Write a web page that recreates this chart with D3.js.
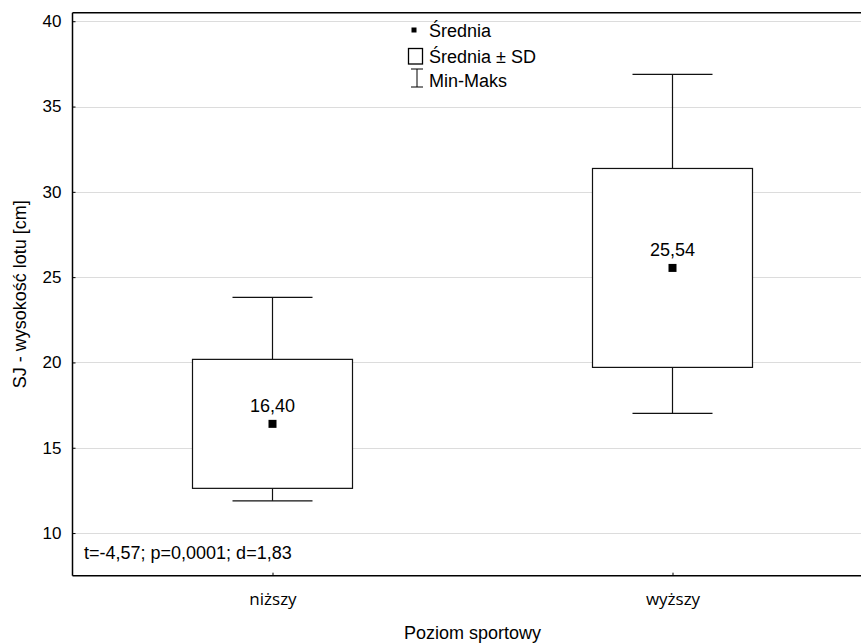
<!DOCTYPE html>
<html>
<head>
<meta charset="utf-8">
<script src="https://cdn.jsdelivr.net/npm/d3@7"></script>
<style>
  body { margin: 0; background: #fff; }
  text { font-family: "Liberation Sans", Arial, sans-serif; fill: #000; }
  .xlab text { font-family: "Open Sans", sans-serif; }
</style>
</head>
<body>
<div id="chart"></div>
<script>
// data
var categories = ["niższy", "wyższy"];
var means = [16.40, 25.54];
var sds = [3.78, 5.83];
var mins = [11.89, 17.01];
var maxs = [23.81, 36.89];
var yTicks = [10, 15, 20, 25, 30, 35, 40];
var meanLabels = ["16,40", "25,54"];
var statsText = "t=-4,57; p=0,0001; d=1,83";

var chart_w = 861, chart_h = 643;
var plot_l = 72.5, plot_r = 872.5, plot_t = 12.7, plot_b = 575.7;

var svg = d3.select("#chart").append("svg")
  .attr("width", chart_w)
  .attr("height", chart_h);

var y = d3.scaleLinear().domain([7.5, 40.5]).range([plot_b, plot_t]);
var x = d3.scalePoint().domain(categories).range([plot_l, plot_r]).padding(0.5);
var step = x.step();
var boxW = step * 0.4, capW = step * 0.2;

// gridlines
svg.append("g").selectAll("line")
  .data(yTicks).enter().append("line")
  .attr("x1", plot_l).attr("x2", plot_r)
  .attr("y1", function(d) { return Math.round(y(d)) + 0.5; })
  .attr("y2", function(d) { return Math.round(y(d)) + 0.5; })
  .attr("stroke", "#dcdcdc").attr("stroke-width", 1);

// y axis (ticks inside)
var yAxis = svg.append("g")
  .attr("transform", "translate(" + plot_l + ",0)")
  .call(d3.axisLeft(y).tickValues(yTicks).tickSizeInner(-3).tickSizeOuter(0).tickPadding(11));
yAxis.select(".domain").remove();
yAxis.selectAll(".tick line").attr("stroke", "#000");
yAxis.selectAll("text").style("font-size", "17px").style("font-family", "Liberation Sans, Arial, sans-serif");

// x axis (ticks inside)
var xAxis = svg.append("g").attr("class", "xlab")
  .attr("transform", "translate(0," + plot_b + ")")
  .call(d3.axisBottom(x).tickSizeInner(-3).tickSizeOuter(0).tickPadding(17));
xAxis.select(".domain").remove();
xAxis.selectAll(".tick line").attr("stroke", "#000");
xAxis.selectAll("text").style("font-size", "17px");

// frame
svg.append("line").attr("x1", plot_l).attr("x2", plot_l).attr("y1", plot_t).attr("y2", plot_b)
  .attr("stroke", "#000").attr("stroke-width", 1.5);
svg.append("line").attr("x1", plot_l).attr("x2", plot_r).attr("y1", plot_t).attr("y2", plot_t)
  .attr("stroke", "#000").attr("stroke-width", 1.5);
svg.append("line").attr("x1", plot_l).attr("x2", plot_r).attr("y1", plot_b).attr("y2", plot_b)
  .attr("stroke", "#000").attr("stroke-width", 1.5);

// boxes
var g = svg.append("g").selectAll("g")
  .data(categories).enter().append("g");

g.append("line")
  .attr("x1", function(d) { return x(d); }).attr("x2", function(d) { return x(d); })
  .attr("y1", function(d, i) { return y(maxs[i]); })
  .attr("y2", function(d, i) { return y(mins[i]); })
  .attr("stroke", "#111").attr("stroke-width", 1.2);
g.append("line")
  .attr("x1", function(d) { return x(d) - capW / 2; }).attr("x2", function(d) { return x(d) + capW / 2; })
  .attr("y1", function(d, i) { return y(maxs[i]); }).attr("y2", function(d, i) { return y(maxs[i]); })
  .attr("stroke", "#111").attr("stroke-width", 1.2);
g.append("line")
  .attr("x1", function(d) { return x(d) - capW / 2; }).attr("x2", function(d) { return x(d) + capW / 2; })
  .attr("y1", function(d, i) { return y(mins[i]); }).attr("y2", function(d, i) { return y(mins[i]); })
  .attr("stroke", "#111").attr("stroke-width", 1.2);
g.append("rect")
  .attr("x", function(d) { return x(d) - boxW / 2; })
  .attr("y", function(d, i) { return y(means[i] + sds[i]); })
  .attr("width", boxW)
  .attr("height", function(d, i) { return y(means[i] - sds[i]) - y(means[i] + sds[i]); })
  .attr("fill", "#fff").attr("stroke", "#111").attr("stroke-width", 1.2);
g.append("rect")
  .attr("x", function(d) { return x(d) - 4; })
  .attr("y", function(d, i) { return y(means[i]) - 4; })
  .attr("width", 8).attr("height", 8)
  .attr("fill", "#000");
g.append("text")
  .attr("x", function(d) { return x(d); })
  .attr("y", function(d, i) { return y(means[i]) - 11.5; })
  .attr("text-anchor", "middle")
  .style("font-size", "18px")
  .text(function(d, i) { return meanLabels[i]; });

// legend
var lg = svg.append("g");
lg.append("rect").attr("x", 411.5).attr("y", 27.5).attr("width", 5).attr("height", 5).attr("fill", "#000");
lg.append("rect").attr("x", 408.5).attr("y", 48.5).attr("width", 14).attr("height", 15.5)
  .attr("fill", "none").attr("stroke", "#000").attr("stroke-width", 1.3);
lg.append("line").attr("x1", 417).attr("x2", 417).attr("y1", 69).attr("y2", 87).attr("stroke", "#000");
lg.append("line").attr("x1", 411).attr("x2", 423).attr("y1", 69).attr("y2", 69).attr("stroke", "#000");
lg.append("line").attr("x1", 411).attr("x2", 423).attr("y1", 87).attr("y2", 87).attr("stroke", "#000");
var legendTexts = ["Średnia", "Średnia ± SD", "Min-Maks"];
var legendY = [37, 63, 86.5];
lg.selectAll("text.lt").data(legendTexts).enter().append("text")
  .attr("x", 429).attr("y", function(d, i) { return legendY[i]; })
  .style("font-size", "18px")
  .text(function(d) { return d; });

// stats annotation
svg.append("text").attr("x", 84).attr("y", 559)
  .style("font-size", "18px").text(statsText);

// axis titles
svg.append("text")
  .attr("x", (plot_l + plot_r) / 2).attr("y", 639)
  .attr("text-anchor", "middle").style("font-size", "18px")
  .text("Poziom sportowy");
svg.append("text")
  .attr("transform", "translate(26," + ((plot_t + plot_b) / 2) + ") rotate(-90)")
  .attr("text-anchor", "middle").style("font-size", "18px")
  .text("SJ - wysokość lotu [cm]");
</script>
</body>
</html>
